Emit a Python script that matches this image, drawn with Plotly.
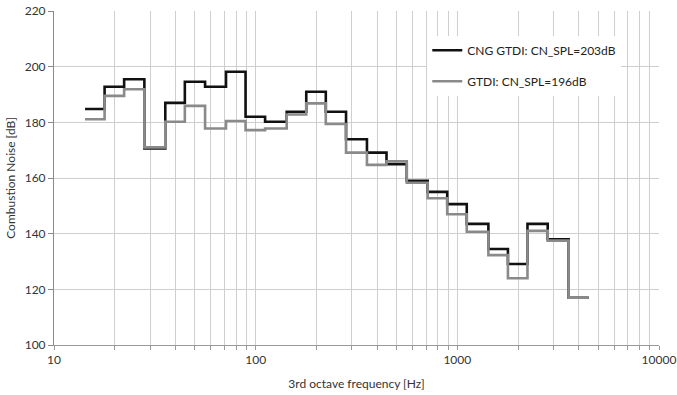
import plotly.graph_objects as go

# 1/3-octave band centre frequencies [Hz]
band_centres = [16, 20, 25, 31.5, 40, 50, 63, 80, 100, 125, 160, 200, 250, 315,
                400, 500, 630, 800, 1000, 1250, 1600, 2000, 2500, 3150, 4000]

# Combustion noise per band [dB]
cng_gtdi = [184.8, 192.8, 195.5, 170.6, 187.0, 194.6, 192.8, 198.2, 182.0, 180.2,
            183.8, 191.0, 183.8, 173.9, 169.1, 165.0, 159.0, 155.0, 150.6, 143.5,
            134.5, 129.1, 143.5, 138.0, 117.0]
gtdi = [181.1, 189.5, 191.9, 171.0, 180.2, 185.9, 177.8, 180.5, 177.2, 177.8,
        182.8, 186.8, 179.4, 169.1, 164.7, 166.0, 158.3, 152.7, 147.0, 140.7,
        132.3, 124.0, 141.0, 137.5, 117.0]

series_names = ["CNG GTDI: CN_SPL=203dB", "GTDI: CN_SPL=196dB"]
series_colors = ["#111111", "#8a8a8a"]

x_tickvals = [10, 100, 1000, 10000]
x_ticktext = ["10", "100", "1000", "10000"]
y_tickvals = [100, 120, 140, 160, 180, 200, 220]

# band edges: lower edge of each band plus the upper edge of the last band
f = 2 ** (1 / 6)
edges = [c / f for c in band_centres] + [band_centres[-1] * f]


def step_y(vals):
    return list(vals) + [vals[-1]]


fig = go.Figure()
for i, (name, vals) in enumerate(zip(series_names, [cng_gtdi, gtdi])):
    fig.add_trace(go.Scatter(
        x=edges, y=step_y(vals), mode="lines", name=name,
        line=dict(color=series_colors[i], width=2.6, shape="hv"),
        legendgroup=f"g{i}",
    ))

font_family = "Lato, 'Open Sans', Arial, sans-serif"
grid_c = "#cfcfcf"

fig.update_layout(
    width=677, height=395,
    margin=dict(l=54, r=18, t=11, b=50),
    paper_bgcolor="white", plot_bgcolor="white",
    font=dict(family=font_family, size=12, color="#333333"),
    showlegend=True,
    legend=dict(
        x=0.617, y=0.926, xanchor="left", yanchor="top",
        bgcolor="white", borderwidth=0,
        font=dict(size=12, color="#222222"),
        tracegroupgap=12, itemwidth=30,
    ),
    xaxis=dict(
        type="log", range=[1, 4], automargin=False,
        tickvals=x_tickvals, ticktext=x_ticktext,
        showgrid=True, gridcolor=grid_c, gridwidth=1,
        showline=True, linecolor="#9a9a9a", linewidth=1,
        ticks="outside", ticklen=4, tickcolor="#9a9a9a",
        minor=dict(dtick="D1", showgrid=True, gridcolor=grid_c, gridwidth=1,
                   ticks="outside", ticklen=4, tickcolor="#9a9a9a"),
        title=dict(text="3rd octave frequency [Hz]", font=dict(size=12), standoff=13),
        tickfont=dict(size=12),
        zeroline=False,
    ),
    yaxis=dict(
        range=[100, 220], tickvals=y_tickvals, automargin=False,
        showgrid=True, gridcolor=grid_c, gridwidth=1,
        showline=True, linecolor="#8a8a8a", linewidth=1,
        ticks="outside", ticklen=5, tickcolor="#8a8a8a",
        title=dict(text="Combustion Noise [dB]", font=dict(size=12), standoff=6),
        tickfont=dict(size=12),
        zeroline=False,
    ),
)

fig.write_html("out.html", config={"displayModeBar": False},
               post_script="document.body.style.margin='0';")
